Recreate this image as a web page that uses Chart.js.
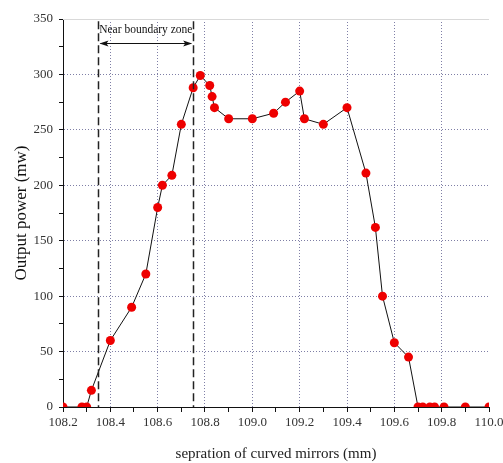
<!DOCTYPE html>
<html>
<head>
<meta charset="utf-8">
<script src="https://cdn.jsdelivr.net/npm/chart.js@4.4.1/dist/chart.umd.min.js"></script>
<style>
  body { margin: 0; background: #fff; }
  #wrap { width: 503px; height: 463px; }
</style>
</head>
<body>
<div id="wrap"><canvas id="chart" width="503" height="463"></canvas></div>
<script>
// separation of curved mirrors (mm)
const sepMm = [108.20, 108.28, 108.30, 108.32, 108.40, 108.49, 108.55, 108.60, 108.62, 108.66,
  108.70, 108.75, 108.78, 108.82, 108.83, 108.84, 108.90, 109.00, 109.09, 109.14,
  109.20, 109.22, 109.30, 109.40, 109.48, 109.52, 109.55, 109.60, 109.66, 109.70,
  109.72, 109.75, 109.77, 109.81, 109.90, 110.00]
// output power (mw)
const powerMw = [0, 0, 0, 15, 60, 90, 120, 180, 200, 209,
  255, 288, 299, 290, 280, 270, 260, 260, 265, 275,
  285, 260, 255, 270, 211, 162, 100, 58, 45, 0,
  0, 0, 0, 0, 0, 0]
// near boundary zone limits
const zoneX = [108.35, 108.75]
const zoneLabel = 'Near boundary zone'

const serif = "'Liberation Serif', 'Times New Roman', serif"
const gridCol = 'rgba(105,105,150,0.85)'

const points = sepMm.map((x, i) => ({ x: x, y: powerMw[i] }))

//marco superior y zona
const zonePlugin = {
  id: 'zonePlugin',
  beforeDatasetsDraw(chart) {
    const { ctx, chartArea: { left, right, top } } = chart
    ctx.save()
    ctx.strokeStyle = '#d9d9d9'
    ctx.lineWidth = 1
    ctx.beginPath()
    ctx.moveTo(left, top + 0.5)
    ctx.lineTo(right, top + 0.5)
    ctx.stroke()
    ctx.restore()
  },
  afterDatasetsDraw(chart) {
    const { ctx, scales: { x, y } } = chart
    const x1 = x.getPixelForValue(zoneX[0])
    const x2 = x.getPixelForValue(zoneX[1])
    ctx.save()
    // lineas discontinuas
    ctx.strokeStyle = '#222'
    ctx.lineWidth = 1.5
    ctx.setLineDash([8, 4])
    zoneX.forEach(v => {
      const px = Math.round(x.getPixelForValue(v)) + 0.5
      ctx.beginPath()
      ctx.moveTo(px, y.getPixelForValue(348))
      ctx.lineTo(px, y.getPixelForValue(0))
      ctx.stroke()
    })
    ctx.setLineDash([])
    // flecha doble
    const ay = Math.round(y.getPixelForValue(328)) + 0.5
    ctx.lineWidth = 1
    ctx.strokeStyle = '#111'
    ctx.fillStyle = '#111'
    ctx.beginPath()
    ctx.moveTo(x1 + 2, ay)
    ctx.lineTo(x2 - 2, ay)
    ctx.stroke()
    ctx.beginPath()
    ctx.moveTo(x1 + 1, ay)
    ctx.lineTo(x1 + 10, ay - 3)
    ctx.lineTo(x1 + 8, ay)
    ctx.lineTo(x1 + 10, ay + 3)
    ctx.closePath()
    ctx.fill()
    ctx.beginPath()
    ctx.moveTo(x2 - 1, ay)
    ctx.lineTo(x2 - 10, ay - 3)
    ctx.lineTo(x2 - 8, ay)
    ctx.lineTo(x2 - 10, ay + 3)
    ctx.closePath()
    ctx.fill()
    // texto
    ctx.font = '11.5px ' + serif
    ctx.fillStyle = '#111'
    ctx.textAlign = 'center'
    ctx.textBaseline = 'middle'
    ctx.fillText(zoneLabel, (x1 + x2) / 2, y.getPixelForValue(340))
    ctx.restore()
  }
}

const config = {
  type: 'scatter',
  data: {
    datasets: [{
      data: points,
      showLine: true,
      borderColor: '#111',
      borderWidth: 1,
      tension: 0,
      pointRadius: 4.5,
      pointBackgroundColor: '#ee0000',
      pointBorderWidth: 0,
      clip: 0
    }]
  },
  options: {
    responsive: false,
    animation: false,
    layout: {
      padding: { left: 0, right: 14, top: 19, bottom: 0 }
    },
    plugins: {
      legend: { display: false },
      tooltip: { enabled: false }
    },
    scales: {
      x: {
        type: 'linear',
        min: 108.2,
        max: 110.0,
        afterFit(scale) {
          scale.height = 56
          scale.paddingLeft = 0
          scale.paddingRight = 0
        },
        ticks: {
          stepSize: 0.1,
          autoSkip: false,
          maxRotation: 0,
          padding: 3,
          color: '#333',
          font: { family: serif, size: 13 },
          callback: v => Math.round(v * 10) % 2 === 0 ? v.toFixed(1) : ''
        },
        grid: {
          color: c => {
            const t = Math.round(c.tick.value * 10)
            return (t % 2 === 0 && t !== 1082 && t !== 1100) ? gridCol : 'rgba(0,0,0,0)'
          },
          tickColor: '#111',
          tickLength: 5,
          lineWidth: 1
        },
        border: { display: true, color: '#111', width: 1, dash: [1, 2] },
        title: {
          display: true,
          text: 'sepration of curved mirrors (mm)',
          color: '#222',
          font: { family: serif, size: 15 },
          padding: { top: 0, bottom: 0 }
        }
      },
      y: {
        min: 0,
        max: 350,
        afterFit(scale) { scale.width = 63 },
        ticks: {
          stepSize: 25,
          autoSkip: false,
          padding: 6,
          color: '#333',
          font: { family: serif, size: 13 },
          callback: v => v % 50 === 0 ? v : ''
        },
        grid: {
          color: c => {
            const v = c.tick.value
            return (v % 50 === 0 && v !== 0 && v !== 350) ? gridCol : 'rgba(0,0,0,0)'
          },
          tickColor: '#111',
          tickLength: 4,
          lineWidth: 1
        },
        border: { display: true, color: '#111', width: 1, dash: [1, 2] },
        title: {
          display: true,
          text: 'Output power (mw)',
          color: '#111',
          font: { family: serif, size: 17 },
          padding: { top: 11, bottom: 0 }
        }
      }
    }
  },
  plugins: [zonePlugin]
}

var chart = document.getElementById('chart')
var myChart = new Chart(chart, config)
</script>
</body>
</html>
